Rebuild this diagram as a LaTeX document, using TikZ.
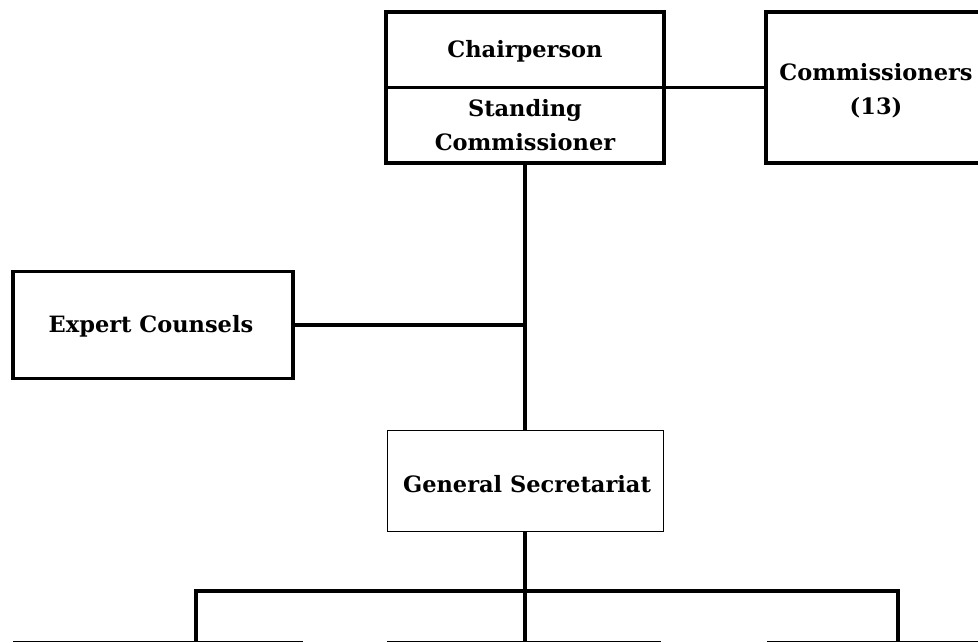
\documentclass[tikz,border=0pt]{standalone}
\usepackage{fontspec}
\setmainfont{DejaVu Serif}
\begin{document}
\begin{tikzpicture}[x=1pt,y=-1pt,
  thickbox/.style={draw=black, line width=3.2pt, inner sep=0pt},
  thinbox/.style={draw=black, line width=1pt, inner sep=0pt},
  lbl/.style={font=\fontsize{22.5}{34}\selectfont\bfseries, align=center, inner sep=0pt},
  thickline/.style={line width=3.2pt},
  thinline/.style={line width=1pt}]
\useasboundingbox (0,0) rectangle (978,643);
\clip (0,0) rectangle (978,643);
% top box
\node[thickbox, minimum width=278pt, minimum height=151pt] (chair) at (525,87.5) {};
\draw[thickline] (chair.west) -- (chair.east);
\node[lbl] (chairt) at (525,51) {Chairperson};
\node[lbl] (standt) at (525,125) {Standing\\Commissioner};
% commissioners
\node[thickbox, minimum width=240pt, minimum height=151pt] (comm) at (886,87.5) {};
\node[lbl] (commt) at (876,91) {Commissioners\\(13)};
\draw[thickline] (chair.east) -- (comm.west);
% expert
\node[thickbox, minimum width=280pt, minimum height=107pt] (exp) at (153,325) {};
\node[lbl] (expt) at (151,326) {Expert Counsels};
% general secretariat
\node[thinbox, minimum width=276pt, minimum height=101pt] (gs) at (525,480.5) {};
\node[lbl] (gst) at (527,484) {General Secretariat};
% junctions
\coordinate (j) at (525,325);
\coordinate (bus) at (525,591);
\coordinate (busl) at (196,591);
\coordinate (busr) at (898,591);
\coordinate (b1) at (196,641);
\coordinate (b2) at (525,641);
\coordinate (b3) at (898,641);
\draw[thickline] (chair.south) -- (j) -- (gs.north);
\draw[thickline] (exp.east) -- (j);
\draw[thickline] (gs.south) -- (bus);
\draw[thickline] (b1) -- (busl) -- (busr) -- (b3);
\draw[thickline] (bus) -- (b2);
% bottom boxes (tops only visible)
\coordinate (l1) at (13,641.5); \coordinate (r1) at (303,641.5);
\coordinate (l2) at (387,641.5); \coordinate (r2) at (661,641.5);
\coordinate (l3) at (767,641.5); \coordinate (r3) at (990,641.5);
\draw[thinline] (l1) -- (r1);
\draw[thinline] (l2) -- (r2);
\draw[thinline] (l3) -- (r3);
\end{tikzpicture}
\end{document}
